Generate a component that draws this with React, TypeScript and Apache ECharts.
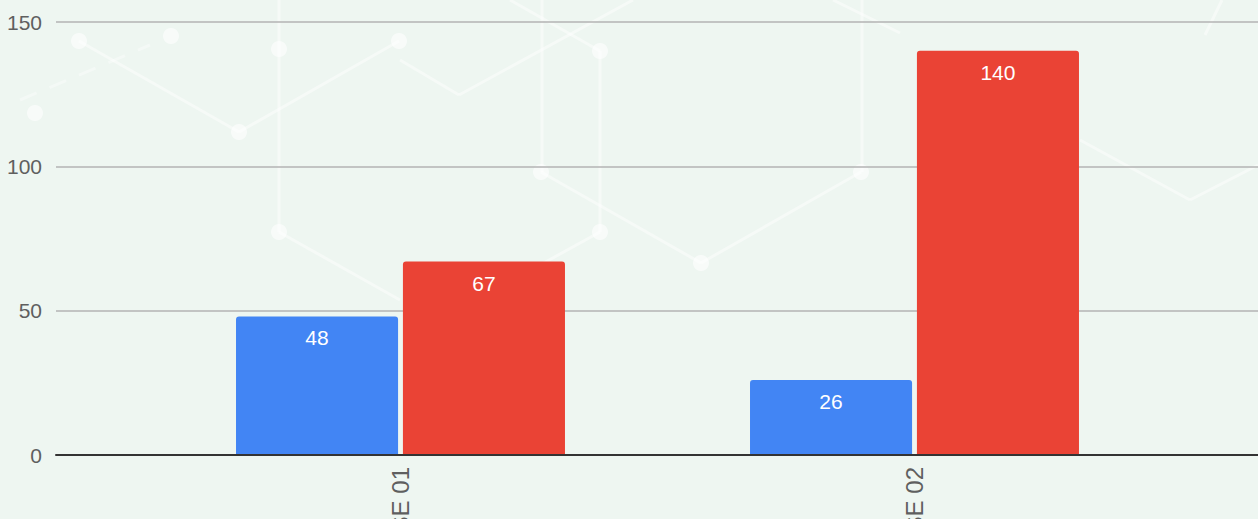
import React, { useEffect, useRef } from "react";
import * as echarts from "echarts";

const categories = ["SE 01", "SE 02"];
const seriesBlue = [48, 26];
const seriesRed = [67, 140];
const yTicks = { min: 0, max: 150, interval: 50 };

// decorative hexagon-network background (not data)
const bgLines: number[][][] = [
  [[279, 0], [279, 232]],
  [[79, 41], [239, 132]],
  [[239, 132], [399, 41]],
  [[279, 232], [400, 300]],
  [[542, 0], [542, 172]],
  [[600, 51], [600, 232]],
  [[510, 0], [600, 51]],
  [[459, 95], [633, 0]],
  [[400, 60], [459, 95]],
  [[541, 172], [701, 263]],
  [[701, 263], [861, 172]],
  [[862, 0], [862, 172]],
  [[833, 0], [900, 33]],
  [[600, 232], [540, 265]],
  [[1080, 140], [1190, 200]],
  [[1190, 200], [1258, 165]],
  [[1205, 35], [1222, 0]],
];
const bgDashed: number[][][] = [[[20, 100], [150, 45]]];
const bgNodes: number[][] = [
  [79, 41], [171, 36], [35, 113], [239, 132], [279, 49], [399, 41],
  [279, 232], [541, 172], [600, 51], [600, 232], [701, 263], [861, 172],
];

export default function App() {
  const ref = useRef<HTMLDivElement>(null);
  useEffect(() => {
    const chart = echarts.init(ref.current!, undefined, { renderer: "svg" });
    const font = "'Liberation Sans', Arial, sans-serif";
    const graphics: any[] = [];
    bgLines.forEach((l) =>
      graphics.push({
        type: "line",
        z: -10,
        silent: true,
        shape: { x1: l[0][0], y1: l[0][1], x2: l[1][0], y2: l[1][1] },
        style: { stroke: "rgba(255,255,255,0.45)", lineWidth: 3 },
      })
    );
    bgDashed.forEach((l) =>
      graphics.push({
        type: "line",
        z: -10,
        silent: true,
        shape: { x1: l[0][0], y1: l[0][1], x2: l[1][0], y2: l[1][1] },
        style: { stroke: "rgba(255,255,255,0.35)", lineWidth: 3, lineDash: [18, 14] },
      })
    );
    bgNodes.forEach((n) =>
      graphics.push({
        type: "circle",
        z: -10,
        silent: true,
        shape: { cx: n[0], cy: n[1], r: 8 },
        style: { fill: "rgba(255,255,255,0.6)" },
      })
    );
    chart.setOption({
      animation: false,
      backgroundColor: "#eef6f1",
      graphic: graphics,
      grid: [
        { left: 56, right: -20, top: 22, bottom: 64, outerBoundsMode: "none", containLabel: false },
        { left: 143.5, width: 1028, top: 22, bottom: 64, outerBoundsMode: "none", containLabel: false },
      ],
      xAxis: [
        {
          type: "category",
          gridIndex: 0,
          data: [""],
          axisLine: { show: true, lineStyle: { color: "#333", width: 2 } },
          axisTick: { show: false },
          axisLabel: { show: false },
          z: 5,
        },
        {
          type: "category",
          gridIndex: 1,
          data: categories,
          axisLine: { show: false },
          axisTick: { show: false },
          axisLabel: {
            rotate: 90,
            margin: 12,
            fontSize: 24,
            color: "#5f5f5f",
            fontFamily: font,
          },
        },
      ],
      yAxis: [
        {
          type: "value",
          gridIndex: 0,
          min: yTicks.min,
          max: yTicks.max,
          interval: yTicks.interval,
          axisLine: { show: false },
          axisTick: { show: false },
          axisLabel: { fontSize: 21, color: "#5f5f5f", margin: 14, fontFamily: font },
          splitLine: { lineStyle: { color: "#b3b3b3", width: 1.5 } },
        },
        {
          type: "value",
          gridIndex: 1,
          min: yTicks.min,
          max: yTicks.max,
          interval: yTicks.interval,
          show: false,
          splitLine: { show: false },
        },
      ],
      series: [
        {
          type: "bar",
          xAxisIndex: 1,
          yAxisIndex: 1,
          data: seriesBlue,
          barCategoryGap: "36%",
          barGap: "3%",
          itemStyle: { color: "#4285f4", borderRadius: [3, 3, 0, 0] },
          label: {
            show: true,
            position: "insideTop",
            distance: 11,
            color: "#ffffff",
            fontSize: 21,
            fontFamily: font,
          },
        },
        {
          type: "bar",
          xAxisIndex: 1,
          yAxisIndex: 1,
          data: seriesRed,
          barCategoryGap: "36%",
          barGap: "3%",
          itemStyle: { color: "#ea4335", borderRadius: [3, 3, 0, 0] },
          label: {
            show: true,
            position: "insideTop",
            distance: 11,
            color: "#ffffff",
            fontSize: 21,
            fontFamily: font,
          },
        },
      ],
    });
    return () => chart.dispose();
  }, []);
  return (
    <div
      ref={ref}
      style={{ position: "fixed", left: 0, top: 0, width: 1258, height: 519 }}
    />
  );
}
